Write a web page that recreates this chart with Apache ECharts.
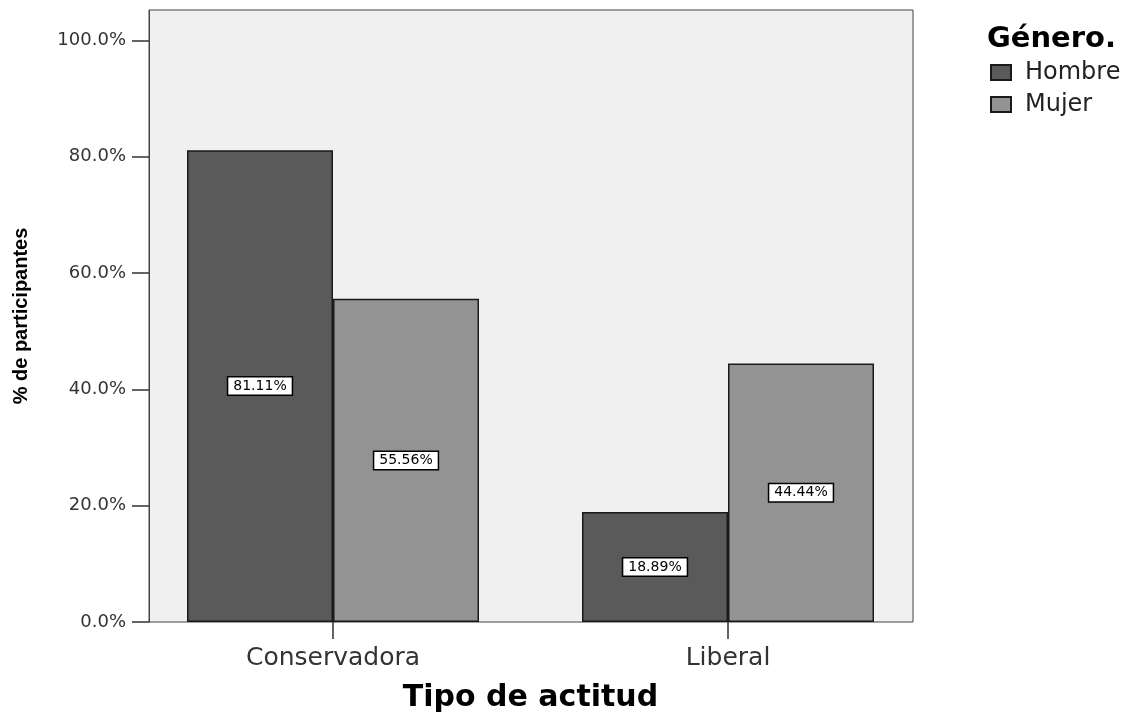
<!DOCTYPE html>
<html>
<head>
<meta charset="utf-8">
<script src="https://cdn.jsdelivr.net/npm/echarts@6/dist/echarts.min.js"></script>
<style>
html,body{margin:0;padding:0;background:#fff;}
#chart{width:1145px;height:715px;}
</style>
</head>
<body>
<div id="chart"></div>
<script>
const categories = ['Conservadora', 'Liberal'];
const seriesNames = ['Hombre', 'Mujer'];
const hombreValues = [81.11, 18.89];
const mujerValues = [55.56, 44.44];
const yTicks = [0, 20, 40, 60, 80, 100];
const legendTitle = 'Género.';
const xAxisName = 'Tipo de actitud';
const yAxisName = '% de participantes';

const chart = echarts.init(document.getElementById('chart'));
const labelStyle = {
  show: true,
  position: 'inside',
  formatter: p => p.value.toFixed(2) + '%',
  color: '#000',
  fontFamily: 'DejaVu Sans',
  fontSize: 14,
  backgroundColor: '#fff',
  borderColor: '#000',
  borderWidth: 1.5,
  padding: [2, 5, 1, 5]
};
chart.setOption({
  animation: false,
  backgroundColor: '#fff',
  title: {
    text: legendTitle,
    left: 982, top: 20,
    textStyle: {fontFamily: 'DejaVu Sans', fontWeight: 'bold', fontSize: 29, color: '#000'}
  },
  legend: {
    data: seriesNames,
    orient: 'vertical',
    left: 985, top: 55.5,
    itemWidth: 20, itemHeight: 15, itemGap: 8,
    textStyle: {fontFamily: 'DejaVu Sans', fontSize: 24, color: '#222', lineHeight: 24, padding: [0, 0, 0, 9]},
    icon: 'rect'
  },
  grid: [
    {left: 149, right: 232, top: 10, bottom: 93, outerBoundsMode: 'none', show: true, backgroundColor: '#f0f0f0', borderColor: '#444', borderWidth: 1},
    {left: 135.5, right: 219.5, top: 10, bottom: 93, outerBoundsMode: 'none'}
  ],
  xAxis: [
    {gridIndex: 0, type: 'category', data: categories, show: false},
    {
      gridIndex: 1, type: 'category', data: categories,
      axisLine: {show: false},
      axisTick: {show: true, alignWithLabel: true, length: 17, lineStyle: {color: '#333', width: 1.5}},
      axisLabel: {fontFamily: 'DejaVu Sans', fontSize: 25, color: '#333', margin: 24},
      name: xAxisName, nameLocation: 'middle', nameGap: 61,
      nameTextStyle: {fontFamily: 'DejaVu Sans', fontWeight: 'bold', fontSize: 30, color: '#000'}
    }
  ],
  yAxis: [
    {
      gridIndex: 0, type: 'value', min: 0, max: 105.2, interval: 20,
      splitLine: {show: false},
      axisLine: {show: true, lineStyle: {color: '#444'}},
      axisTick: {show: true, length: 17, customValues: yTicks, lineStyle: {color: '#333', width: 1.5}},
      axisLabel: {customValues: yTicks, formatter: v => v.toFixed(1) + '%', fontFamily: 'DejaVu Sans', fontSize: 18, color: '#333', margin: 23},
      name: yAxisName, nameLocation: 'middle', nameGap: 118, nameRotate: 90,
      nameTextStyle: {fontFamily: 'Liberation Sans', fontWeight: 'bold', fontSize: 20, color: '#000'}
    },
    {gridIndex: 1, type: 'value', min: 0, max: 105.2, show: false}
  ],
  series: [
    {
      name: seriesNames[0], type: 'bar', xAxisIndex: 1, yAxisIndex: 1,
      data: hombreValues, barWidth: 146, barGap: '0%',
      itemStyle: {color: '#5a5a5a', borderColor: '#1a1a1a', borderWidth: 1.5},
      label: labelStyle
    },
    {
      name: seriesNames[1], type: 'bar', xAxisIndex: 1, yAxisIndex: 1,
      data: mujerValues, barWidth: 146, barGap: '0%',
      itemStyle: {color: '#939393', borderColor: '#1a1a1a', borderWidth: 1.5},
      label: labelStyle
    }
  ]
});
</script>
</body>
</html>
